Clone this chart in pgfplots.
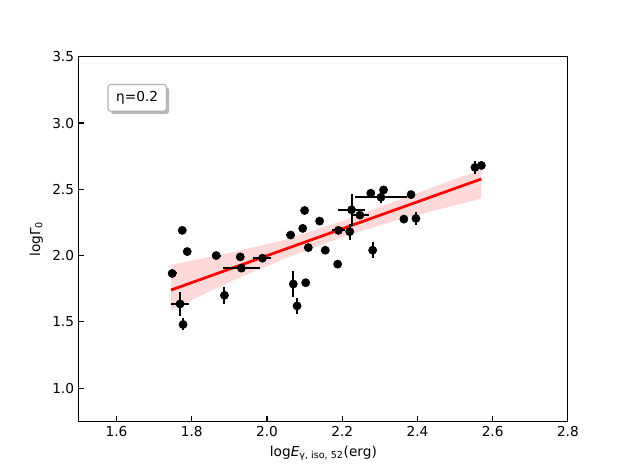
\documentclass[border=0pt]{standalone}
\usepackage{pgfplots}
\pgfplotsset{compat=1.18}
\usepackage{pgfplotstable}
\usepackage{fontspec}
\setmainfont{DejaVu Sans}
\usetikzlibrary{shadows}

\pgfplotstableread{
x y ex ey
1.748 1.865 0.012 0.01
1.769 1.635 0.024 0.09
1.777 1.48 0.004 0.045
1.775 2.19 0 0
1.788 2.03 0 0
1.865 2.00 0.012 0
1.887 1.70 0 0.065
1.929 1.99 0.005 0
1.932 1.905 0.05 0
1.988 1.98 0.024 0
2.063 2.155 0.012 0
2.095 2.205 0.01 0
2.10 2.34 0 0
2.11 2.06 0 0
2.14 2.26 0 0
2.155 2.04 0 0
2.188 1.935 0 0
2.07 1.785 0 0.095
2.103 1.795 0 0
2.08 1.62 0 0.06
2.19 2.19 0.017 0
2.22 2.18 0 0.06
2.225 2.345 0.036 0.12
2.247 2.305 0.023 0
2.276 2.47 0 0
2.303 2.44 0.068 0.045
2.31 2.495 0 0
2.383 2.46 0.01 0
2.364 2.275 0 0
2.396 2.28 0 0.05
2.281 2.04 0 0.06
2.553 2.665 0 0.05
2.57 2.68 0 0
}\datatable

\begin{document}
\begin{tikzpicture}
\path[use as bounding box] (0,0) rectangle (460.8pt,345.6pt);
\begin{axis}[
  at={(57.6pt,38.016pt)}, anchor=south west,
  scale only axis, width=357.12pt, height=266.11pt,
  xmin=1.5, xmax=2.8, ymin=0.75, ymax=3.5,
  xtick={1.6,1.8,2.0,2.2,2.4,2.6,2.8},
  ytick={1.0,1.5,2.0,2.5,3.0,3.5},
  xticklabel style={/pgf/number format/.cd,fixed,fixed zerofill,precision=1},
  yticklabel style={/pgf/number format/.cd,fixed,fixed zerofill,precision=1},
  /pgf/number format/assume math mode=true,
  tick align=inside, xtick pos=bottom, ytick pos=left,
  major tick length=3.5pt,
  every tick/.style={black, line width=0.8pt},
  axis line style={line width=0.8pt},
  xlabel={log\textit{E}\textsubscript{γ, iso, 52}(erg)},
  ylabel={logΓ\textsubscript{0}},
  label style={font=\normalsize},
  ticklabel style={font=\normalsize},
  clip=false,
]
\addplot[draw=none, fill=red, fill opacity=0.15] coordinates {
(1.745,1.59) (1.9,1.80) (2.05,1.98) (2.2,2.14) (2.35,2.27) (2.57,2.43)
(2.57,2.65) (2.35,2.42) (2.2,2.26) (2.05,2.12) (1.9,2.02) (1.745,1.93)
} -- cycle;
\addplot[red, line width=2pt] coordinates {(1.745,1.74) (2.57,2.578)};
\addplot[only marks, mark=*, mark size=3pt, black,
  error bars/.cd, x dir=both, x explicit, y dir=both, y explicit,
  error mark=none, error bar style={line width=1.5pt, black}]
  table[x=x, y=y, x error=ex, y error=ey] {\datatable};
\node[draw=gray!60, fill=white, rounded corners=2pt, line width=0.8pt,
  drop shadow={shadow xshift=2pt, shadow yshift=-2pt, fill=gray!70, opacity=0.8},
  inner xsep=6pt, inner ysep=5pt, font=\normalsize] at (axis cs:1.655,3.19) {η=0.2};
\end{axis}
\end{tikzpicture}
\end{document}
